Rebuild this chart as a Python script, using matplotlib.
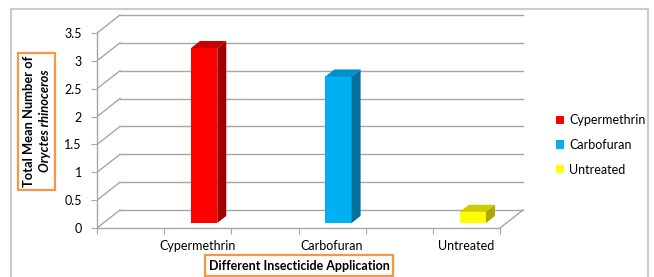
import matplotlib
matplotlib.use('Agg')
import matplotlib.pyplot as plt
from matplotlib.patches import Polygon, Rectangle, Patch

# data
categories = ['Cypermethrin', 'Carbofuran', 'Untreated']
values = [3.14, 2.63, 0.2]
front_colors = ['#FF0000', '#00B0F0', '#FFFF00']
top_colors = ['#C80000', '#0090CC', '#CCCC00']
side_colors = ['#A00000', '#00709C', '#A8A800']
yticks = [0, 0.5, 1, 1.5, 2, 2.5, 3, 3.5]

W, H = 654, 277
plt.rcParams['font.family'] = ['Lato', 'DejaVu Sans']

fig = plt.figure(figsize=(W / 100, H / 100), dpi=100)


def fx(x):
    return x / W


def fy(y):
    return 1 - y / H


# outer chart border
fig.patches.append(Rectangle((fx(11), fy(290)), fx(648) - fx(11), fy(9) - fy(290),
                             transform=fig.transFigure, fill=False,
                             edgecolor='#CCCCCC', linewidth=1.5))

ax = fig.add_axes([fx(97), fy(228), 430 / W, 216 / H])
ax.set_xlim(0, 430 / 67.17)
ax.set_ylim(0, 216 / 55.71)

DX = 23 / 67.17   # depth offset (data units)
DY = 18 / 55.71
f0, f1 = 0.28, 0.67
bw = 0.39
ncat = 6
centers = [1.5, 3.5, 5.5]

grid_c = '#A6A6A6'
# back wall gridlines + side wall diagonals
for v in yticks:
    ax.plot([DX, ncat + DX], [v + DY, v + DY], color=grid_c, lw=1, zorder=1)
    ax.plot([0, DX], [v, v + DY], color=grid_c, lw=1, zorder=1)
ax.plot([ncat, ncat + DX], [0, DY], color=grid_c, lw=1, zorder=1)

# bars (front face + top + side)
for c, v, fc, tc, sc in zip(centers, values, front_colors, top_colors, side_colors):
    x0 = c - bw / 2 + f0 * DX
    y0 = f0 * DY
    ax.bar(x0, v, width=bw, bottom=y0, align='edge', color=fc, zorder=3)
    ddx = (f1 - f0) * DX
    ddy = (f1 - f0) * DY
    top = [(x0, y0 + v), (x0 + bw, y0 + v), (x0 + bw + ddx, y0 + v + ddy), (x0 + ddx, y0 + v + ddy)]
    side = [(x0 + bw, y0), (x0 + bw + ddx, y0 + ddy), (x0 + bw + ddx, y0 + v + ddy), (x0 + bw, y0 + v)]
    ax.add_patch(Polygon(top, closed=True, facecolor=tc, edgecolor='none', zorder=3))
    ax.add_patch(Polygon(side, closed=True, facecolor=sc, edgecolor='none', zorder=3))

for s in ['top', 'right']:
    ax.spines[s].set_visible(False)
ax.spines['left'].set_bounds(0, 3.5)
ax.spines['bottom'].set_bounds(0, ncat)
for s in ['left', 'bottom']:
    ax.spines[s].set_color(grid_c)
    ax.spines[s].set_linewidth(1)

ax.set_yticks(yticks)
ax.set_yticklabels(['0', '0.5', '1', '1.5', '2', '2.5', '3', '3.5'])
ax.set_xticks(range(ncat + 1))
ax.set_xticklabels([])
ax.set_xticks(centers, minor=True)
ax.set_xticklabels(categories, minor=True)
ax.tick_params(axis='both', which='major', length=4, color=grid_c, labelsize=9, labelcolor='#000000')
ax.tick_params(axis='y', pad=7)
ax.tick_params(axis='x', which='minor', length=0, pad=9, labelsize=9)
ax.patch.set_visible(False)

# axis titles with orange boxes
orange = '#F79646'
fig.patches.append(Rectangle((fx(18), fy(190)), fx(55) - fx(18), fy(53) - fy(190),
                             transform=fig.transFigure, fill=False, edgecolor=orange, linewidth=1.6))
fig.text(fx(29), fy(121), 'Total Mean Number of', rotation=90, ha='center', va='center',
         fontsize=9.3, fontweight='bold')
fig.text(fx(45), fy(121), 'Oryctes rhinoceros', rotation=90, ha='center', va='center',
         fontsize=9.3, fontweight='bold', fontstyle='italic')

fig.patches.append(Rectangle((fx(205), fy(276)), fx(393) - fx(205), fy(255) - fy(276),
                             transform=fig.transFigure, fill=False, edgecolor=orange, linewidth=1.6))
fig.text(fx(299), fy(266), 'Different Insecticide Application', ha='center', va='center',
         fontsize=9, fontweight='bold')

handles = [Patch(facecolor=c, edgecolor='none') for c in front_colors]
fig.legend(handles, categories, loc='center left', bbox_to_anchor=(fx(556), fy(145)),
           frameon=False, fontsize=9, handlelength=0.65, handleheight=0.65,
           handletextpad=0.4, labelspacing=1.0, borderaxespad=0, borderpad=0)

fig.savefig('out.png', dpi=100)
